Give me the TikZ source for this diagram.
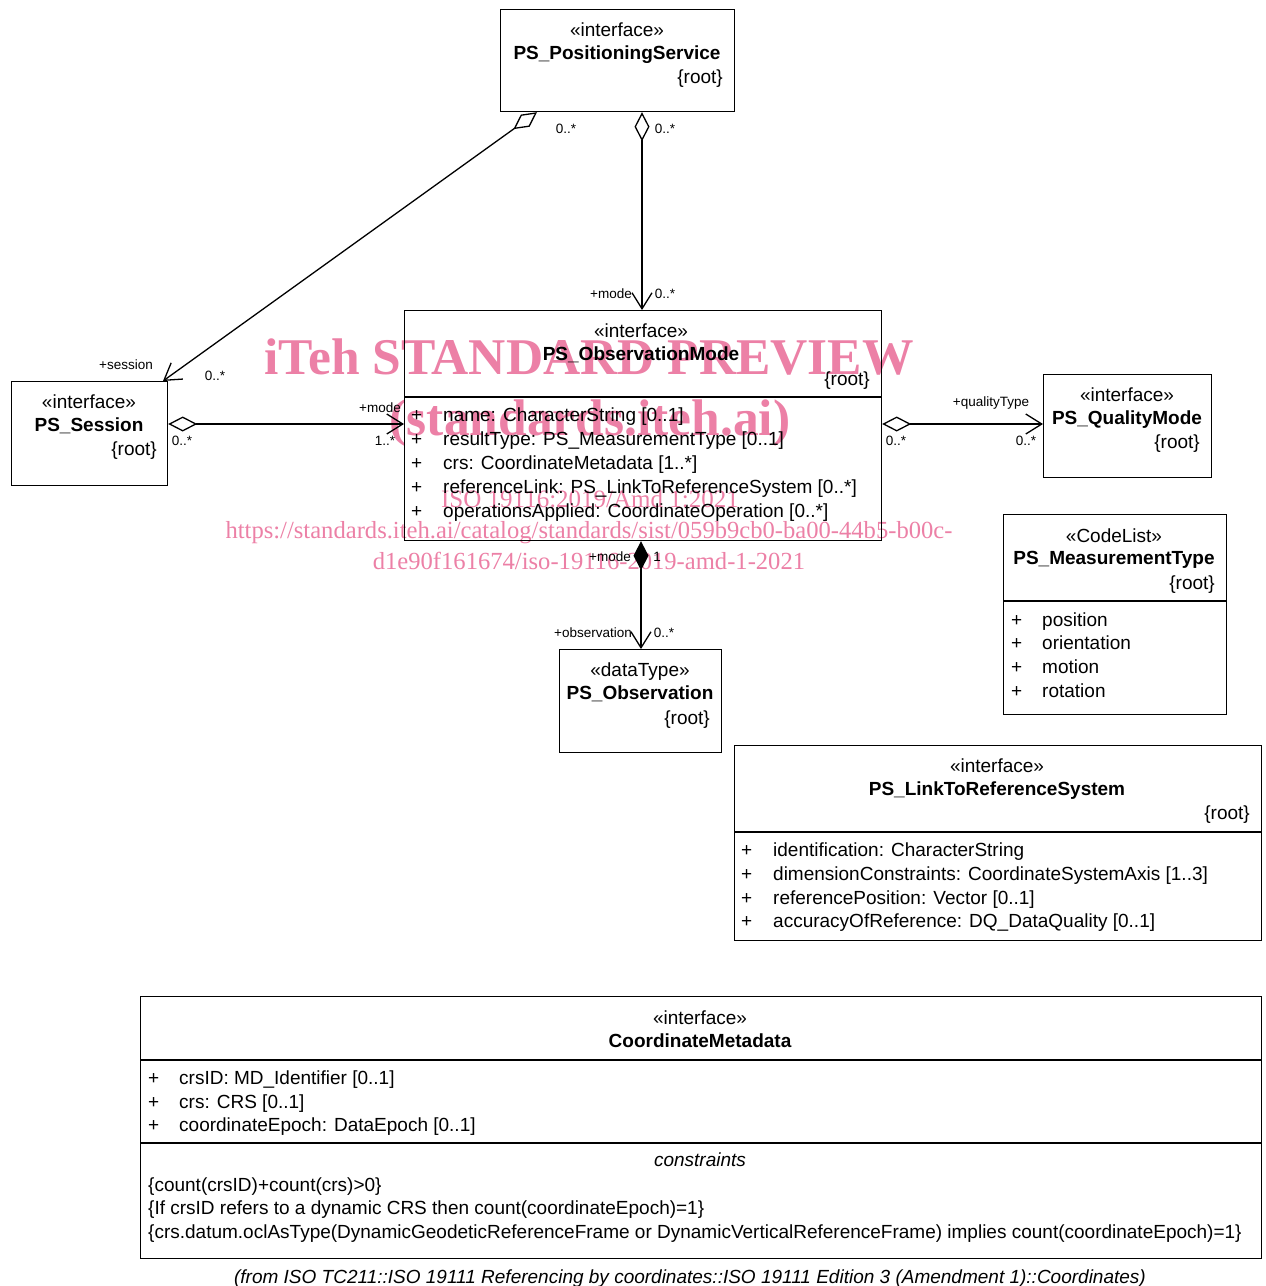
\documentclass[tikz,border=0pt]{standalone}
\usepackage{fontspec}
\setmainfont{Liberation Sans}
\newfontfamily\wmfont{Liberation Serif}
\usetikzlibrary{arrows.meta}
\definecolor{wmpink}{RGB}{236,128,166}
\begin{document}
\begin{tikzpicture}[x=1pt,y=-1pt,
  box/.style={draw, line width=1.2pt, inner sep=0, anchor=north west},
  sepline/.style={line width=1.2pt},
  txt/.style={font=\fontsize{19}{23}\selectfont, inner sep=0, anchor=mid, yshift=-3pt},
  bold/.style={txt, font=\fontsize{19}{23}\selectfont\bfseries},
  rootlbl/.style={txt, anchor=mid east},
  attr/.style={txt, anchor=mid west},
  lbl/.style={font=\fontsize{13.5}{15}\selectfont, inner sep=0, anchor=mid, yshift=-2pt},
  conn/.style={line width=1.3pt},
  agg/.style={conn, {Diamond[open,length=29pt,width=15pt,line width=1.3pt]}-{Straight Barb[length=16pt,width=20pt,line width=1.3pt]}},
  comp/.style={conn, {Diamond[length=29pt,width=15pt]}-{Straight Barb[length=16pt,width=20pt,line width=1.3pt]}},
  wm/.style={text=wmpink, inner sep=0, anchor=mid}
]
\useasboundingbox (0,0) rectangle (1266,1286);

% ---------- watermark (behind the diagram)
\node[wm, font=\wmfont\fontsize{51.5}{55}\selectfont\bfseries] (wm1) at (589,372) {iTeh STANDARD PREVIEW};
\node[wm, font=\wmfont\fontsize{51.5}{55}\selectfont\bfseries] (wm2) at (590,433) {(standards.iteh.ai)};
\node[wm, font=\wmfont\fontsize{25}{28}\selectfont] (wm3) at (590,505) {ISO 19116:2019/Amd 1:2021};
\node[wm, font=\wmfont\fontsize{24.6}{28}\selectfont] (wm4) at (589,536) {https://standards.iteh.ai/catalog/standards/sist/059b9cb0-ba00-44b5-b00c-};
\node[wm, font=\wmfont\fontsize{24.6}{28}\selectfont] (wm5) at (589,567) {d1e90f161674/iso-19116-2019-amd-1-2021};

% ---------- PS_PositioningService
\node[box, minimum width=234pt, minimum height=102pt] (pos) at (500,9) {};
\node[txt] (posS) at (617,31) {«interface»};
\node[bold] (posN) at (617,54) {PS\_PositioningService};
\node[rootlbl] (posR) at (723,78) {\{root\}};

% ---------- PS_ObservationMode
\node[box, minimum width=477pt, minimum height=230pt] (om) at (404,310) {};
\draw[sepline] ([yshift=-87pt]om.north west) -- ([yshift=-87pt]om.north east);
\node[txt] (omS) at (641,332) {«interface»};
\node[bold] (omN) at (641,355) {PS\_ObservationMode};
\node[rootlbl] (omR) at (870,380) {\{root\}};
\node[attr] (omP1) at (411,416) {+};
\node[attr] (omP2) at (411,440) {+};
\node[attr] (omP3) at (411,464) {+};
\node[attr] (omP4) at (411,488) {+};
\node[attr] (omP5) at (411,512) {+};
\node[attr] (omA1) at (443,416) {name: CharacterString [0..1]};
\node[attr] (omA2) at (443,440) {resultType: PS\_MeasurementType [0..1]};
\node[attr] (omA3) at (443,464) {crs: CoordinateMetadata [1..*]};
\node[attr] (omA4) at (443,488) {referenceLink: PS\_LinkToReferenceSystem [0..*]};
\node[attr] (omA5) at (443,512) {operationsApplied: CoordinateOperation [0..*]};

% ---------- PS_Session
\node[box, minimum width=156pt, minimum height=104pt] (ses) at (11,381) {};
\node[txt] (sesS) at (89,403) {«interface»};
\node[bold] (sesN) at (89,426) {PS\_Session};
\node[rootlbl] (sesR) at (157,450) {\{root\}};

% ---------- PS_QualityMode
\node[box, minimum width=168pt, minimum height=103pt] (qm) at (1043,374) {};
\node[txt] (qmS) at (1127,396) {«interface»};
\node[bold] (qmN) at (1127,419) {PS\_QualityMode};
\node[rootlbl] (qmR) at (1200,443) {\{root\}};

% ---------- PS_MeasurementType
\node[box, minimum width=223pt, minimum height=200pt] (mt) at (1003,514) {};
\draw[sepline] ([yshift=-87pt]mt.north west) -- ([yshift=-87pt]mt.north east);
\node[txt] (mtS) at (1114,537) {«CodeList»};
\node[bold] (mtN) at (1114,559) {PS\_MeasurementType};
\node[rootlbl] (mtR) at (1215,584) {\{root\}};
\node[attr] (mtP1) at (1011,621) {+};
\node[attr] (mtP2) at (1011,644) {+};
\node[attr] (mtP3) at (1011,668) {+};
\node[attr] (mtP4) at (1011,692) {+};
\node[attr] (mtA1) at (1042,621) {position};
\node[attr] (mtA2) at (1042,644) {orientation};
\node[attr] (mtA3) at (1042,668) {motion};
\node[attr] (mtA4) at (1042,692) {rotation};

% ---------- PS_Observation
\node[box, minimum width=162pt, minimum height=103pt] (obs) at (559,649) {};
\node[txt] (obsS) at (640,671) {«dataType»};
\node[bold] (obsN) at (640,694) {PS\_Observation};
\node[rootlbl] (obsR) at (710,719) {\{root\}};

% ---------- PS_LinkToReferenceSystem
\node[box, minimum width=527pt, minimum height=195pt] (lrs) at (734,745) {};
\draw[sepline] ([yshift=-87pt]lrs.north west) -- ([yshift=-87pt]lrs.north east);
\node[txt] (lrsS) at (997,767) {«interface»};
\node[bold] (lrsN) at (997,790) {PS\_LinkToReferenceSystem};
\node[rootlbl] (lrsR) at (1250,814) {\{root\}};
\node[attr] (lrsP1) at (741,851) {+};
\node[attr] (lrsP2) at (741,875) {+};
\node[attr] (lrsP3) at (741,899) {+};
\node[attr] (lrsP4) at (741,922) {+};
\node[attr] (lrsA1) at (773,851) {identification: CharacterString};
\node[attr] (lrsA2) at (773,875) {dimensionConstraints: CoordinateSystemAxis [1..3]};
\node[attr] (lrsA3) at (773,899) {referencePosition: Vector [0..1]};
\node[attr] (lrsA4) at (773,922) {accuracyOfReference: DQ\_DataQuality [0..1]};

% ---------- CoordinateMetadata
\node[box, minimum width=1121pt, minimum height=262pt] (cm) at (140,996) {};
\draw[sepline] ([yshift=-64pt]cm.north west) -- ([yshift=-64pt]cm.north east);
\draw[sepline] ([yshift=-147pt]cm.north west) -- ([yshift=-147pt]cm.north east);
\node[txt] (cmS) at (700,1019) {«interface»};
\node[bold] (cmN) at (700,1042) {CoordinateMetadata};
\node[attr] (cmP1) at (148,1079) {+};
\node[attr] (cmP2) at (148,1103) {+};
\node[attr] (cmP3) at (148,1126) {+};
\node[attr] (cmA1) at (179,1079) {crsID: MD\_Identifier [0..1]};
\node[attr] (cmA2) at (179,1103) {crs: CRS [0..1]};
\node[attr] (cmA3) at (179,1126) {coordinateEpoch: DataEpoch [0..1]};
\node[txt, font=\fontsize{19}{23}\selectfont\itshape] (cmC) at (700,1161) {constraints};
\node[attr] (cmC1) at (148,1186) {\{count(crsID)+count(crs)>0\}};
\node[attr] (cmC2) at (148,1209) {\{If crsID refers to a dynamic CRS then count(coordinateEpoch)=1\}};
\node[attr] (cmC3) at (148,1233) {\{crs.datum.oclAsType(DynamicGeodeticReferenceFrame or DynamicVerticalReferenceFrame) implies count(coordinateEpoch)=1\}};

% ---------- footer
\node[txt, font=\fontsize{19}{23}\selectfont\itshape] (foot) at (690,1278) {(from ISO TC211::ISO 19111 Referencing by coordinates::ISO 19111 Edition 3 (Amendment 1)::Coordinates)};

% ---------- connectors
\draw[agg] ([xshift=37pt]pos.south west) -- ([xshift=152pt]ses.north west);
\node[lbl] (l1a) at (566,129) {0..*};
\node[lbl] (l1b) at (126,365) {+session};
\node[lbl] (l1c) at (215,376) {0..*};

\draw[agg] ([xshift=142pt]pos.south west) -- ([xshift=238pt]om.north west);
\node[lbl] (l2a) at (665,129) {0..*};
\node[lbl] (l2b) at (611,294) {+mode};
\node[lbl] (l2c) at (665,294) {0..*};

\draw[agg] ([yshift=-43pt]ses.north east) -- ([yshift=-114pt]om.north west);
\node[lbl] (l3a) at (182,441) {0..*};
\node[lbl] (l3b) at (380,408) {+mode};
\node[lbl] (l3c) at (385,441) {1..*};

\draw[agg] ([yshift=-114pt]om.north east) -- ([yshift=-50pt]qm.north west);
\node[lbl] (l4a) at (896,441) {0..*};
\node[lbl] (l4b) at (991,402) {+qualityType};
\node[lbl] (l4c) at (1026,441) {0..*};

\draw[comp] ([xshift=237pt]om.south west) -- ([xshift=82pt]obs.north west);
\node[lbl] (l5a) at (610,557) {+mode};
\node[lbl] (l5b) at (657,557) {1};
\node[lbl] (l5c) at (593,633) {+observation};
\node[lbl] (l5d) at (664,633) {0..*};
\end{tikzpicture}
\end{document}
